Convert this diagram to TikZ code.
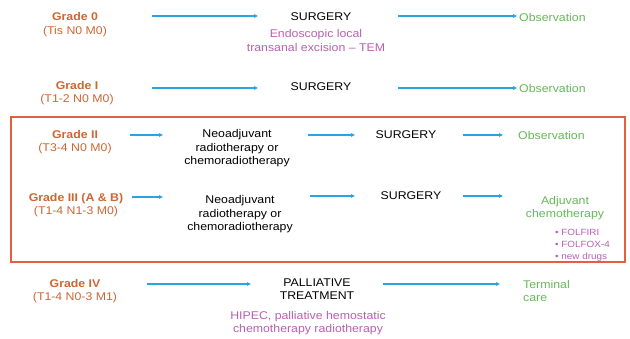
\documentclass[tikz,border=0pt]{standalone}
\usepackage{fontspec}
\setmainfont{Liberation Sans}[FakeStretch=1.1]
\usetikzlibrary{arrows.meta}
\definecolor{gradeorange}{RGB}{204,102,51}
\definecolor{obsgreen}{RGB}{100,185,85}
\definecolor{txtpink}{RGB}{185,95,175}
\definecolor{arrowblue}{RGB}{40,165,225}
\definecolor{boxred}{RGB}{228,96,60}
\begin{document}
\begin{tikzpicture}[x=1pt,y=-1pt,
  txt/.style={inner sep=0pt, align=center, font=\fontsize{11.2}{13.5}\selectfont},
  grade/.style={txt, text=gradeorange},
  step0/.style={txt, text=black},
  note/.style={txt, text=txtpink},
  result/.style={txt, text=obsgreen},
  bullets/.style={inner sep=0pt, align=left, text=txtpink, font=\fontsize{9}{12}\selectfont},
  arr/.style={draw=arrowblue, line width=1.1pt, -{Triangle[length=4pt,width=3.5pt]}},
  framebox/.style={draw=boxred, line width=1.3pt}
]
\useasboundingbox (0,0) rectangle (630,339);

% Row 0
\node[grade] (g0) at (75,24.5) {{\bfseries Grade 0}\\(Tis N0 M0)};
\node[step0] (s0) at (321,17) {SURGERY};
\node[note] (e0) at (316,40.5) {Endoscopic local\\transanal excision -- TEM};
\node[result, anchor=west] (o0) at (519,17) {Observation};
\coordinate (a0s) at (152,16); \coordinate (a0e) at (258,16);
\coordinate (b0s) at (398,16); \coordinate (b0e) at (517,16);
\draw[arr] (a0s) -- (a0e);
\draw[arr] (b0s) -- (b0e);

% Row 1
\node[grade] (g1) at (77,93) {{\bfseries Grade I}\\(T1-2 N0 M0)};
\node[step0] (s1) at (321,87) {SURGERY};
\node[result, anchor=west] (o1) at (519,88) {Observation};
\coordinate (a1s) at (152,88); \coordinate (a1e) at (258,88);
\coordinate (b1s) at (398,88); \coordinate (b1e) at (517,88);
\draw[arr] (a1s) -- (a1e);
\draw[arr] (b1s) -- (b1e);

% Frame
\draw[framebox] (11,117) rectangle (625,262);

% Row 2
\node[grade] (g2) at (75,142) {{\bfseries Grade II}\\(T3-4 N0 M0)};
\node[step0] (n2) at (237,148.5) {Neoadjuvant\\radiotherapy or\\chemoradiotherapy};
\node[step0] (s2) at (406,135) {SURGERY};
\node[result, anchor=west] (o2) at (518,135) {Observation};
\coordinate (a2s) at (130,135); \coordinate (a2e) at (163,135);
\coordinate (b2s) at (308,135); \coordinate (b2e) at (355,135);
\coordinate (c2s) at (463,135); \coordinate (c2e) at (503,135);
\draw[arr] (a2s) -- (a2e);
\draw[arr] (b2s) -- (b2e);
\draw[arr] (c2s) -- (c2e);

% Row 3
\node[grade] (g3) at (76,205) {{\bfseries Grade III (A \& B)}\\(T1-4 N1-3 M0)};
\node[step0] (n3) at (240,214.5) {Neoadjuvant\\radiotherapy or\\chemoradiotherapy};
\node[step0] (s3) at (411,196) {SURGERY};
\node[result] (adj) at (565,208) {Adjuvant\\chemotherapy};
\node[bullets, anchor=west] (drugs) at (555,245) {• FOLFIRI\\• FOLFOX-4\\• new drugs};
\coordinate (a3s) at (132,197); \coordinate (a3e) at (163,197);
\coordinate (b3s) at (310,196); \coordinate (b3e) at (355,196);
\coordinate (c3s) at (463,196); \coordinate (c3e) at (503,196);
\draw[arr] (a3s) -- (a3e);
\draw[arr] (b3s) -- (b3e);
\draw[arr] (c3s) -- (c3e);

% Row 4
\node[grade] (g4) at (75,291) {{\bfseries Grade IV}\\(T1-4 N0-3 M1)};
\node[step0] (p4) at (317,289) {PALLIATIVE\\TREATMENT};
\node[note] (h4) at (308,323) {HIPEC, palliative hemostatic\\chemotherapy radiotherapy};
\node[result, anchor=west, align=left] (t4) at (523,291) {Terminal\\care};
\coordinate (a4s) at (147,284); \coordinate (a4e) at (251,284);
\coordinate (b4s) at (383,284); \coordinate (b4e) at (500,284);
\draw[arr] (a4s) -- (a4e);
\draw[arr] (b4s) -- (b4e);
\end{tikzpicture}
\end{document}
